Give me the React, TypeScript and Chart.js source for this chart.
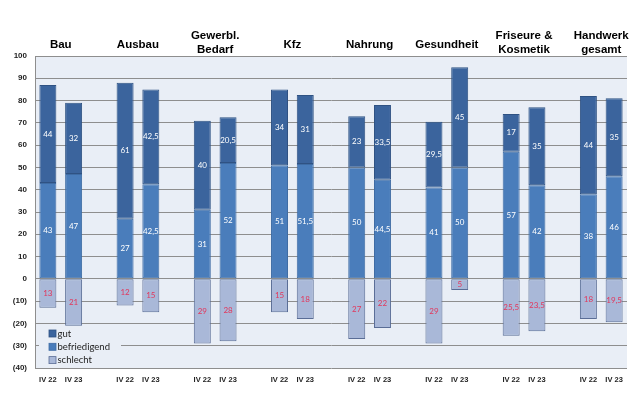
import React, { useEffect, useRef } from "react";
import { Chart, registerables } from "chart.js";

Chart.register(...registerables);

const groupTitles: string[][] = [
  ["Bau"],
  ["Ausbau"],
  ["Gewerbl.", "Bedarf"],
  ["Kfz"],
  ["Nahrung"],
  ["Gesundheit"],
  ["Friseure &", "Kosmetik"],
  ["Handwerk", "gesamt"],
];
const periods = ["IV 22", "IV 23"];

// values per group: [IV 22, IV 23]
const gut: number[][] = [
  [44, 32], [61, 42.5], [40, 20.5], [34, 31], [23, 33.5], [29.5, 45], [17, 35], [44, 35],
];
const befriedigend: number[][] = [
  [43, 47], [27, 42.5], [31, 52], [51, 51.5], [50, 44.5], [41, 50], [57, 42], [38, 46],
];
const schlecht: number[][] = [
  [13, 21], [12, 15], [29, 28], [15, 18], [27, 22], [29, 5], [25.5, 23.5], [18, 19.5],
];

const seriesNames = ["gut", "befriedigend", "schlecht"];
const COL_GUT = "#3b649d";
const COL_BEF = "#4a7dbb";
const COL_SCH = "#a9b8d8";
const BRD_GUT = "#2f5283";
const BRD_BEF = "#3f6ca4";
const BRD_SCH = "#5a6d96";
const PLOT_BG = "#e9eef6";

function flatten(vals: number[][], sign = 1): (number | null)[] {
  const out: (number | null)[] = [];
  vals.forEach((pair, i) => {
    pair.forEach((v) => out.push(v * sign));
    if (i < vals.length - 1) out.push(null);
  });
  return out;
}

const labels: string[] = [];
groupTitles.forEach((_, i) => {
  periods.forEach((p) => labels.push(p));
  if (i < groupTitles.length - 1) labels.push("");
});

const fmt = (v: number) => String(Math.abs(v)).replace(".", ",");

const bgPlugin = {
  id: "plotBg",
  beforeDraw(chart: any) {
    const { ctx, chartArea } = chart;
    ctx.save();
    ctx.fillStyle = PLOT_BG;
    ctx.fillRect(chartArea.left, chartArea.top, chartArea.right - chartArea.left, chartArea.bottom - chartArea.top);
    ctx.restore();
  },
};

const labelPlugin = {
  id: "valueLabels",
  afterDatasetsDraw(chart: any) {
    const { ctx } = chart;
    ctx.save();
    ctx.font = "8px Lato";
    ctx.textAlign = "center";
    ctx.textBaseline = "middle";
    chart.data.datasets.forEach((ds: any, di: number) => {
      const meta = chart.getDatasetMeta(di);
      meta.data.forEach((el: any, i: number) => {
        const v = ds.data[i];
        if (v === null || v === undefined) return;
        const y = (el.y + el.base) / 2;
        ctx.fillStyle = ds.label === "schlecht" ? "#e2365b" : "#ffffff";
        ctx.fillText(fmt(v), el.x, y);
      });
    });
    ctx.restore();
  },
};

const titlePlugin = {
  id: "groupTitles",
  afterDraw(chart: any) {
    const { ctx } = chart;
    const xs = chart.scales.x;
    ctx.save();
    ctx.font = "bold 11.5px 'Liberation Sans', Arial";
    ctx.fillStyle = "#000";
    ctx.textAlign = "center";
    ctx.textBaseline = "middle";
    groupTitles.forEach((lines, g) => {
      const i0 = g * 3;
      const cx = (xs.getPixelForValue(i0) + xs.getPixelForValue(i0 + 1)) / 2;
      if (lines.length === 1) {
        ctx.fillText(lines[0], cx, 45);
      } else {
        ctx.fillText(lines[0], cx, 36);
        ctx.fillText(lines[1], cx, 49.5);
      }
    });
    ctx.restore();
  },
};

const legendPlugin = {
  id: "innerLegend",
  afterDraw(chart: any) {
    const { ctx, chartArea } = chart;
    const x0 = chartArea.left + 4;
    const y0 = 327;
    ctx.save();
    ctx.fillStyle = PLOT_BG;
    ctx.fillRect(x0, y0, 82, 40);
    const cols = [COL_GUT, COL_BEF, COL_SCH];
    const borders = [BRD_GUT, BRD_BEF, BRD_SCH];
    ctx.font = "9.5px Lato";
    ctx.textBaseline = "middle";
    ctx.textAlign = "left";
    seriesNames.forEach((n, i) => {
      const y = 333.5 + i * 13.3;
      ctx.fillStyle = cols[i];
      ctx.fillRect(49, y - 3.5, 7, 7);
      ctx.strokeStyle = borders[i];
      ctx.lineWidth = 0.8;
      ctx.strokeRect(49, y - 3.5, 7, 7);
      ctx.fillStyle = "#222";
      ctx.fillText(n, 57.5, y);
    });
    ctx.restore();
  },
};

export default function App() {
  const ref = useRef<HTMLCanvasElement | null>(null);
  useEffect(() => {
    if (!ref.current) return;
    const chart = new Chart(ref.current, {
      type: "bar",
      data: {
        labels,
        datasets: [
          {
            label: "befriedigend",
            data: flatten(befriedigend),
            backgroundColor: COL_BEF,
            borderColor: BRD_BEF,
            borderWidth: 1,
            borderSkipped: false,
            stack: "s",
          },
          {
            label: "gut",
            data: flatten(gut),
            backgroundColor: COL_GUT,
            borderColor: BRD_GUT,
            borderWidth: 1,
            borderSkipped: false,
            stack: "s",
          },
          {
            label: "schlecht",
            data: flatten(schlecht, -1),
            backgroundColor: COL_SCH,
            borderColor: BRD_SCH,
            borderWidth: 1,
            borderSkipped: false,
            stack: "s",
          },
        ] as any,
      },
      options: {
        animation: false,
        responsive: false,
        maintainAspectRatio: false,
        layout: { padding: { top: 56, right: 13, left: 0, bottom: 0 } },
        datasets: { bar: { categoryPercentage: 1, barPercentage: 0.66 } } as any,
        plugins: {
          legend: { display: false },
          tooltip: { enabled: false },
        },
        scales: {
          x: {
            stacked: true,
            grid: { display: false, drawTicks: false },
            border: { display: false },
            ticks: {
              autoSkip: false,
              maxRotation: 0,
              padding: 7,
              color: "#222",
              font: { family: "'Liberation Sans', Arial", size: 7.5, weight: "bold" },
            },
            afterFit(scale: any) {
              scale.height = 26;
            },
          },
          y: {
            stacked: true,
            min: -40,
            max: 100,
            grid: { color: "#8e8e8e", lineWidth: 1, drawTicks: false },
            border: { display: true, color: "#8e8e8e" },
            ticks: {
              stepSize: 10,
              padding: 8,
              color: "#222",
              font: { family: "'Liberation Sans', Arial", size: 8, weight: "bold" },
              callback: (v: any) => (v < 0 ? `(${-v})` : `${v}`),
            },
            afterFit(scale: any) {
              scale.width = 35;
            },
          },
        },
      },
      plugins: [bgPlugin, labelPlugin, titlePlugin, legendPlugin],
    });
    return () => chart.destroy();
  }, []);
  return (
    <div style={{ position: "fixed", left: 0, top: 0, width: 640, height: 394, background: "#fff" }}>
      <canvas ref={ref} width={640} height={394} style={{ width: 640, height: 394, display: "block" }} />
    </div>
  );
}
